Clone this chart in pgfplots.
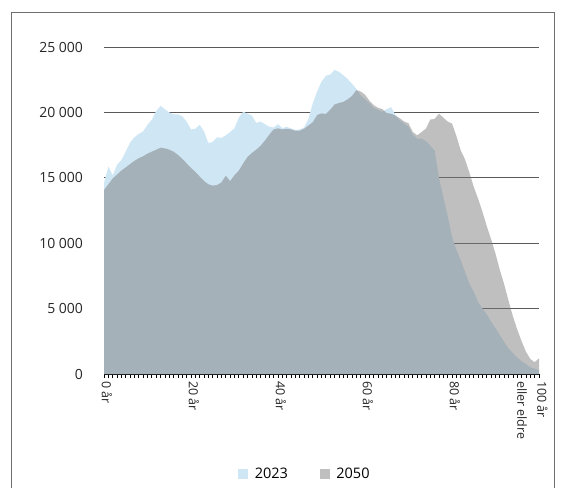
\documentclass[border=0pt]{standalone}
\usepackage{pgfplots}
\pgfplotsset{compat=1.18}
\usepackage{fontspec}
\setmainfont{Open Sans}
\definecolor{c2023}{RGB}{207,230,245}
\definecolor{c2050}{RGB}{121,121,121}
\definecolor{c2050leg}{RGB}{191,191,191}
\definecolor{gridc}{RGB}{90,90,90}
\definecolor{framec}{RGB}{110,110,110}
\begin{document}
\begin{tikzpicture}[x=1pt,y=1pt]
\useasboundingbox (0,0) rectangle (564,488);
\draw[framec, line width=0.9pt] (11,0) -- (11,476) -- (554,476) -- (554,0);
\begin{axis}[
  at={(104pt,114pt)}, anchor=south west,
  scale only axis, width=435pt, height=327pt,
  xmin=0, xmax=100, ymin=0, ymax=25000,
  scaled y ticks=false,
  axis lines*=left,
  y axis line style={draw=none},
  x axis line style={black, line width=0.8pt},
  ytick={0,5000,10000,15000,20000,25000},
  yticklabels={0,5 000,10 000,15 000,20 000,25 000},
  ytick style={draw=none},
  yticklabel style={font=\fontsize{14}{17}\selectfont, xshift=-14pt, text=black!85},
  ymajorgrids, grid style={gridc, line width=0.9pt},
  xtick={0,20,40,60,80},
  xticklabels={0 år,20 år,40 år,60 år,80 år},
  minor xtick={0,1,...,100},
  tick align=outside,
  major tick length=3.5pt, minor tick length=3.5pt,
  xtick style={black, line width=0.8pt},
  minor x tick style={black, line width=0.8pt},
  xticklabel style={font=\fontsize{12.5}{15}\selectfont, rotate=-90, anchor=west, yshift=3pt, text=black!85},
  extra x ticks={100},
  extra x tick labels={100 år\\[5pt]eller eldre},
  extra x tick style={xticklabel style={anchor=north west, align=left, yshift=9pt}},
  legend style={at={(0.462,-0.306)}, anchor=center, draw=none, fill=none,
    font=\fontsize{14.5}{17}\selectfont, legend columns=2,
    /tikz/every even column/.append style={column sep=30pt},
    /tikz/every odd column/.append style={column sep=5pt}},
]
% 2023
\addplot[fill=c2023, draw=none, forget plot] coordinates {
(0,14600) (1,15850) (2,15200) (3,16000) (4,16350) (5,17000) (6,17700) (7,18100) (8,18350) (9,18550)
(10,19050) (11,19450) (12,20100) (13,20500) (14,20250) (15,20000) (16,19850) (17,19850) (18,19700) (19,19300)
(20,18700) (21,18750) (22,19050) (23,18550) (24,17650) (25,17750) (26,18100) (27,18050) (28,18250) (29,18500)
(30,18800) (31,19600) (32,20050) (33,19900) (34,19750) (35,19200) (36,19300) (37,19100) (38,18900) (39,18850)
(40,19100) (41,18800) (42,18900) (43,18780) (44,18650) (45,18700) (46,18850) (47,19500) (48,20700) (49,21600)
(50,22350) (51,22800) (52,22900) (53,23250) (54,23100) (55,22850) (56,22550) (57,22200) (58,21800) (59,21300)
(60,21000) (61,20700) (62,20350) (63,20200) (64,20050) (65,20250) (66,20400) (67,19800) (68,19400) (69,19150)
(70,18900) (71,18300) (72,18000) (73,18000) (74,17800) (75,17450) (76,17100) (77,15000) (78,13550) (79,12100)
(80,10500) (81,9500) (82,8700) (83,7800) (84,6900) (85,6300) (86,5500) (87,5000) (88,4550) (89,4000)
(90,3500) (91,2980) (92,2450) (93,1950) (94,1600) (95,1250) (96,980) (97,760) (98,520) (99,400)
(100,300)
} \closedcycle;
% 2050
\addplot[fill=c2050, fill opacity=0.48, draw=none, forget plot] coordinates {
(0,14070) (1,14500) (2,14950) (3,15250) (4,15550) (5,15800) (6,16050) (7,16300) (8,16500) (9,16650)
(10,16850) (11,17000) (12,17150) (13,17300) (14,17250) (15,17150) (16,17000) (17,16750) (18,16450) (19,16100)
(20,15750) (21,15450) (22,15100) (23,14750) (24,14500) (25,14400) (26,14450) (27,14650) (28,15160) (29,14750)
(30,15200) (31,15550) (32,16100) (33,16600) (34,16900) (35,17150) (36,17450) (37,17850) (38,18300) (39,18700)
(40,18780) (41,18700) (42,18750) (43,18700) (44,18600) (45,18600) (46,18750) (47,19000) (48,19250) (49,19800)
(50,19930) (51,19880) (52,20200) (53,20600) (54,20720) (55,20800) (56,21000) (57,21250) (58,21700) (59,21600)
(60,21350) (61,20900) (62,20550) (63,20350) (64,20250) (65,19950) (66,19900) (67,19750) (68,19550) (69,19300)
(70,19170) (71,18500) (72,18250) (73,18500) (74,18750) (75,19450) (76,19500) (77,19900) (78,19600) (79,19300)
(80,19150) (81,18200) (82,17100) (83,16400) (84,15400) (85,14300) (86,13400) (87,12400) (88,11300) (89,10300)
(90,9200) (91,7950) (92,6850) (93,5600) (94,4400) (95,3400) (96,2500) (97,1700) (98,1150) (99,900)
(100,1200)
} \closedcycle;
\addlegendimage{legend image code/.code={\fill[c2023] (0pt,-4.5pt) rectangle (9pt,4.5pt);}}
\addlegendentry{2023}
\addlegendimage{legend image code/.code={\fill[c2050leg] (0pt,-4.5pt) rectangle (9pt,4.5pt);}}
\addlegendentry{2050}
\end{axis}
\end{tikzpicture}
\end{document}
